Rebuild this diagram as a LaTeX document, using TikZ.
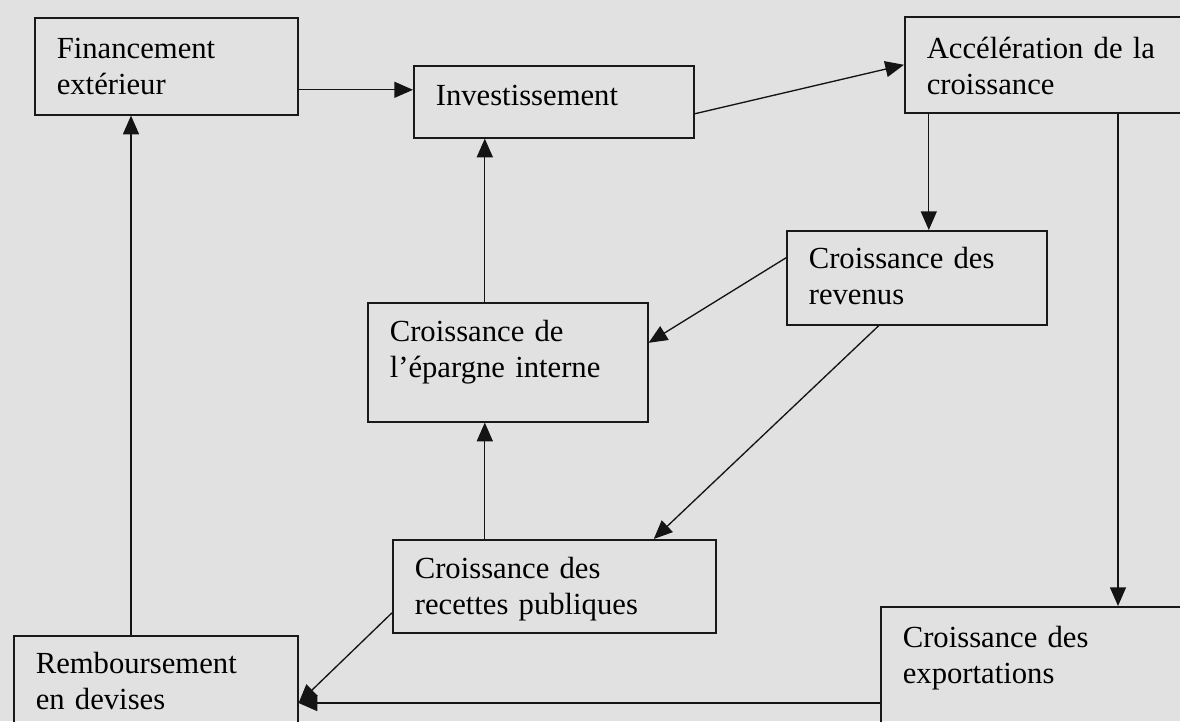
\documentclass[tikz,border=0pt]{standalone}
\usepackage{fontspec}
\setmainfont{Liberation Serif}
\usepackage{tikz}
\usetikzlibrary{arrows.meta}
\tikzset{every picture/.style={line width=0.75pt}}
\tikzset{
  box/.style={draw={rgb,255:red,25;green,25;blue,25}, line width=1.2pt, anchor=north west,
    align=left, inner xsep=16.5pt, inner ysep=0pt, font=\fontsize{23}{27}\selectfont},
  arr/.style={draw={rgb,255:red,20;green,20;blue,20}, line width=1pt,
    -{Triangle[length=14pt,width=12pt]}}
}

\begin{document}
\begin{tikzpicture}[x=0.75pt,y=0.75pt,yscale=-1,xscale=1]
      \useasboundingbox (0,0) rectangle (1180,721);
      \clip (0,0) rectangle (1180,721);
      \fill [color={rgb, 255:red, 225; green, 225; blue, 225}] (0,0) rectangle (1180,721);
      % boxes
      \node [box, text width=164.25pt, text height=30.75pt, text depth=42pt] (fin) at (34,17) {Financement\\extérieur};
      \node [box, text width=177pt, text height=30pt, text depth=24pt] (inv) at (413,65) {Investissement};
      \node [box, text width=189pt, text height=31.5pt, text depth=40.5pt] (acc) at (904,16) {Accélération de la\\croissance};
      \node [box, text width=162pt, text height=28.5pt, text depth=42pt] (rev) at (786,230) {Croissance des\\revenus};
      \node [box, text width=177pt, text height=29.25pt, text depth=60pt] (epa) at (367,302) {Croissance de\\l’épargne interne};
      \node [box, text width=209.25pt, text height=29.25pt, text depth=40.5pt] (rec) at (392,539) {Croissance des\\recettes publiques};
      \node [box, text width=180pt, text height=28.5pt, text depth=65.25pt] (rem) at (13,635) {Remboursement\\en devises};
      \node [box, text width=207pt, text height=30.75pt, text depth=84.75pt] (exp) at (880,606) {Croissance des\\exportations};
      % anchor points
      \coordinate (p1) at ([yshift=-9pt]inv.west);
      \coordinate (p2) at ([xshift=9pt]rev.north);
      \coordinate (p3) at ([xshift=178.5pt]exp.north west);
      \coordinate (p4) at ([xshift=-17.25pt]epa.north);
      \coordinate (p5) at ([yshift=51pt]rem.north east);
      \coordinate (p6) at ([xshift=88.5pt]rem.north west);
      % connectors
      \draw [arr] (fin.east |- p1) -- (p1);
      \draw [arr] ([yshift=9pt]inv.east) -- (acc.west);
      \draw [arr] (acc.south -| p2) -- (p2);
      \draw [arr] (acc.south -| p3) -- (p3);
      \draw [arr] ([yshift=-15pt]rev.west) -- ([yshift=-14.6pt]epa.east);
      \draw [arr] ([xshift=-28.5pt]rev.south) -- ([xshift=74.6pt]rec.north);
      \draw [arr] (p4) -- (inv.south -| p4);
      \draw [arr] (rec.north -| p4) -- (epa.south -| p4);
      \draw [arr] ([yshift=19.9pt]rec.west) -- (p5);
      \draw [arr] (exp.west |- p5) -- (p5);
      \draw [arr] (p6) -- (fin.south -| p6);
\end{tikzpicture}
\end{document}
